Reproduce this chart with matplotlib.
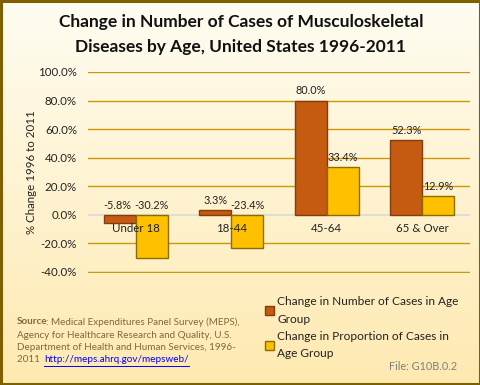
import matplotlib
matplotlib.use("Agg")
import matplotlib.pyplot as plt
import numpy as np
from matplotlib.patches import Rectangle

categories = ["Under 18", "18-44", "45-64", "65 & Over"]
number_change = [-5.8, 3.3, 80.0, 52.3]
proportion_change = [-30.2, -23.4, 33.4, 12.9]
series_names = ["Change in Number of Cases in Age\nGroup",
                "Change in Proportion of Cases in\nAge Group"]
yticks = [-40, -20, 0, 20, 40, 60, 80, 100]

FONT = "Lato"
fig = plt.figure(figsize=(4.81, 3.85), dpi=100)
W, H = 481, 385

# background gradient
bg = fig.add_axes([0, 0, 1, 1], zorder=-10)
top = np.array([255, 253, 242]) / 255
bot = np.array([254, 233, 176]) / 255
t = np.linspace(0, 1, 256)[:, None]
grad = top[None, :] * (1 - t) + bot[None, :] * t
bg.imshow(grad[:, None, :], aspect="auto", extent=[0, 1, 0, 1])
bg.set_xlim(0, 1); bg.set_ylim(0, 1)
bg.axis("off")
bg.add_patch(Rectangle((0.002, 0.003), 0.995, 0.994, fill=False,
                       edgecolor="#7F6000", linewidth=2.2, transform=bg.transAxes))

ax = fig.add_axes([88 / W, 1 - 273 / H, (470 - 88) / W, (273 - 72) / H])
ax.patch.set_alpha(0)
x = np.arange(len(categories))
bw = 0.335
b1 = ax.bar(x - bw / 2, number_change, bw, color="#C55A11", edgecolor="#843C0C",
            linewidth=1.0, zorder=3, label=series_names[0])
b2 = ax.bar(x + bw / 2, proportion_change, bw, color="#FFC000", edgecolor="#8C6D00",
            linewidth=1.0, zorder=3, label=series_names[1])

for bars, vals, dx in ((b1, number_change, -0.03), (b2, proportion_change, 0.0)):
    for r, v in zip(bars, vals):
        ytxt = max(v, 0) + 3.0
        ax.text(r.get_x() + r.get_width() / 2 + (dx if v < 0 else 0), ytxt, f"{v:.1f}%",
                ha="center", va="bottom", fontsize=7.8, family=FONT, color="#222222",
                zorder=5)

ax.set_xlim(-0.5, 3.5)
ax.set_ylim(-40.7, 100)
ax.set_yticks(yticks)
ax.set_yticklabels([f"{v:.1f}%" for v in yticks], fontsize=8.3, family=FONT, color="#222222")
for v in yticks:
    if v == 0:
        ax.axhline(0, color="#D9D9D9", linewidth=1.2, zorder=2)
    else:
        ax.axhline(v, color="#C99A06", linewidth=1.0, zorder=1)
ax.set_xticks([])
for i, c in enumerate(categories):
    ax.text(i, -5.5, c, ha="center", va="top", fontsize=8.3, family=FONT,
            color="#222222", zorder=4)
for s in ax.spines.values():
    s.set_visible(False)
ax.tick_params(axis="y", length=0, pad=8)
ax.set_ylabel("% Change 1996 to 2011", fontsize=8.3, family=FONT, color="#222222")
ax.yaxis.set_label_coords((37 - 88) / (470 - 88), 0.5)

title_lines = ["Change in Number of Cases of Musculoskeletal",
               "Diseases by Age, United States 1996-2011"]
for yy, line in zip([22, 47], title_lines):
    fig.text(241 / W, 1 - yy / H, line, ha="center", va="center", fontsize=12.5,
             fontweight="bold", family=FONT, color="#111111")

# legend
leg = ax.legend(loc="upper left", bbox_to_anchor=(260 / W, 1 - 291 / H),
                bbox_transform=fig.transFigure, frameon=False,
                prop={"family": FONT, "size": 8.6}, handlelength=0.75, handleheight=0.75,
                handletextpad=0.3, labelspacing=0.5, borderaxespad=0)
for tx in leg.get_texts():
    tx.set_color("#222222")
    tx.set_linespacing(1.75)

src_color = "#7F6A3A"
SS = 7.1
fig.canvas.draw()
r = fig.canvas.get_renderer()
s0 = fig.text(17 / W, 1 - 322 / H, "Source", fontsize=SS, family=FONT, fontweight="bold",
              color=src_color, va="center")
w0 = s0.get_window_extent(r).width
fig.text((17 + w0 - 2) / W, 1 - 322 / H, ": Medical Expenditures Panel Survey (MEPS),",
         fontsize=SS, family=FONT, color=src_color, va="center")
fig.text(17 / W, 1 - 335 / H, "Agency for Healthcare Research and Quality, U.S.",
         fontsize=SS, family=FONT, color=src_color, va="center")
fig.text(17 / W, 1 - 347 / H, "Department of Health and Human Services, 1996-",
         fontsize=SS, family=FONT, color=src_color, va="center")
s4 = fig.text(17 / W, 1 - 360 / H, "2011 ", fontsize=SS, family=FONT, color=src_color,
              va="center")
w4 = s4.get_window_extent(r).width
lk = fig.text((17 + w4 + 2) / W, 1 - 360 / H, "http://meps.ahrq.gov/mepsweb/", fontsize=SS,
              family=FONT, color="#0000FF", va="center")
bb = lk.get_window_extent(r)
fig.add_artist(plt.Line2D([bb.x0 / W, bb.x1 / W], [1 - 365.5 / H, 1 - 365.5 / H],
                          color="#0000FF", linewidth=0.7, transform=fig.transFigure))
fig.text(457 / W, 1 - 366 / H, "File: G10B.0.2", fontsize=7.8, family=FONT, color="#808080",
         ha="right", va="center")

fig.savefig("out.png", dpi=100)
